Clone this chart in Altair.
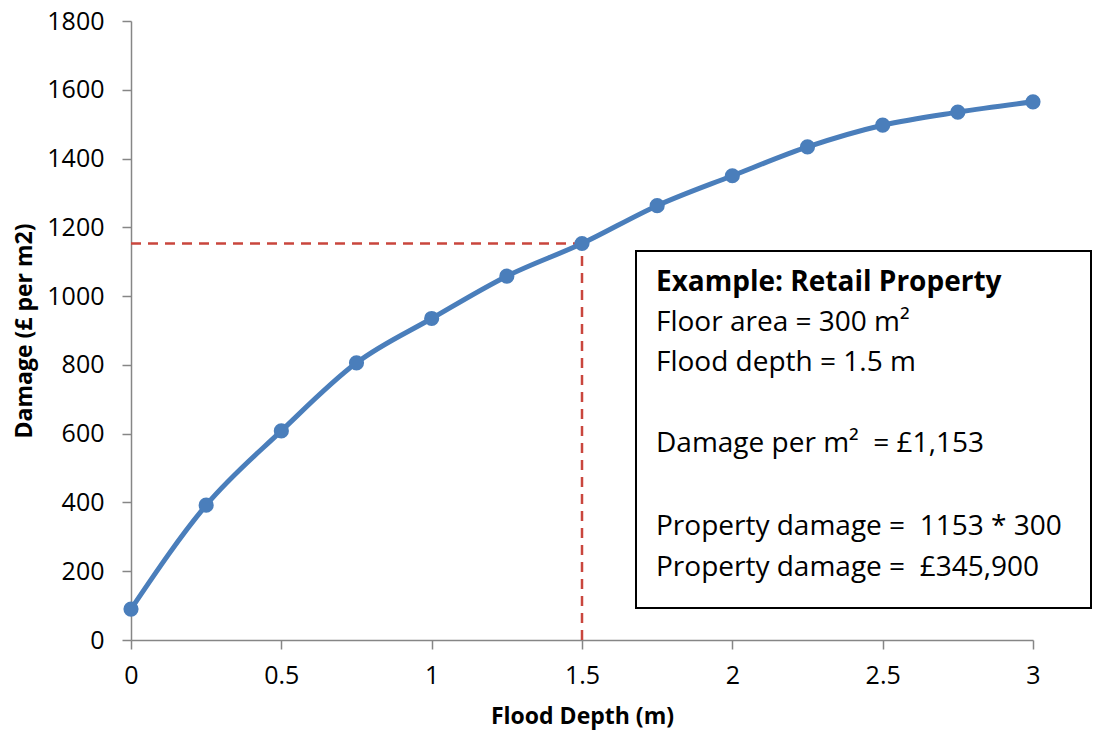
import altair as alt
import pandas as pd

depth = [0, 0.25, 0.5, 0.75, 1.0, 1.25, 1.5, 1.75, 2.0, 2.25, 2.5, 2.75, 3.0]
damage = [90, 392, 608, 806, 935, 1058, 1153, 1263, 1350, 1434, 1497, 1535, 1565]

example_depth = 1.5
example_damage = 1153

NB = "\u00a0"
box_lines = [
    "Example: Retail Property",
    "Floor area = 300 m\u00b2",
    "Flood depth = 1.5 m",
    "Damage per m\u00b2" + NB + NB + "= \u00a31,153",
    "Property damage =" + NB + NB + "1153 * 300",
    "Property damage =" + NB + NB + "\u00a3345,900",
]
box_weights = ["bold", "normal", "normal", "normal", "normal", "normal"]
box_offsets = [262, 302, 342, 423, 506, 547]

df = pd.DataFrame({"depth": depth, "damage": damage})

FONT = "Open Sans"
BLUE = "#4A7EBB"
RED = "#C9463D"

x_scale = alt.Scale(domain=[0, 3], nice=False, zero=True)
y_scale = alt.Scale(domain=[0, 1800], nice=False)

x_axis = alt.Axis(title="Flood Depth (m)", values=[0, 0.5, 1, 1.5, 2, 2.5, 3],
                  format="~g", labelFlush=False, labelPadding=14, titlePadding=17)
y_axis = alt.Axis(title="Damage (\u00a3 per m2)", values=list(range(0, 1801, 200)),
                  format="d", labelPadding=18, titlePadding=10)

base = alt.Chart(df)

ref = pd.DataFrame({
    "x": [0, example_depth],
    "x2": [example_depth, example_depth],
    "y": [example_damage, 0],
    "y2": [example_damage, example_damage],
})
ref_rules = alt.Chart(ref).mark_rule(color=RED, strokeWidth=2.5, strokeDash=[10, 7]).encode(
    x=alt.X("x:Q", scale=x_scale, axis=x_axis), x2="x2:Q",
    y=alt.Y("y:Q", scale=y_scale, axis=y_axis), y2="y2:Q",
)

line = base.mark_line(color=BLUE, strokeWidth=5, interpolate="monotone").encode(
    x=alt.X("depth:Q", scale=x_scale, axis=x_axis),
    y=alt.Y("damage:Q", scale=y_scale, axis=y_axis),
)

points = base.mark_circle(color=BLUE, size=230, opacity=1).encode(
    x=alt.X("depth:Q", scale=x_scale, axis=x_axis),
    y=alt.Y("damage:Q", scale=y_scale, axis=y_axis),
)

box = alt.Chart(pd.DataFrame({"a": [0]})).mark_rect(
    fill="white", stroke="#000", strokeWidth=2
).encode(
    x=alt.value(505), x2=alt.value(960), y=alt.value(230), y2=alt.value(587)
)

texts = []
for lab, w, off in zip(box_lines, box_weights, box_offsets):
    texts.append(
        alt.Chart(pd.DataFrame({"label": [lab]})).mark_text(
            align="left", baseline="middle", fontSize=28, font=FONT,
            fontWeight=w, color="#000"
        ).encode(x=alt.value(525), y=alt.value(off), text="label:N")
    )

chart = alt.layer(ref_rules, line, points, box, *texts).properties(
    width=902, height=619,
    autosize=alt.AutoSizeParams(type="none"),
    padding={"left": 131, "top": 21, "right": 60, "bottom": 93},
).configure(
    background="white"
).configure_view(
    stroke=None
).configure_axis(
    grid=False, domainColor="#868686", domainWidth=1.5,
    tickColor="#868686", tickWidth=1.5, tickSize=9,
    labelFontSize=25, labelFont=FONT, labelColor="#000",
    titleFontSize=23, titleFont=FONT, titleFontWeight="bold", titleColor="#000",
)

chart.save("out.html", embed_options={"renderer": "svg", "actions": False})
